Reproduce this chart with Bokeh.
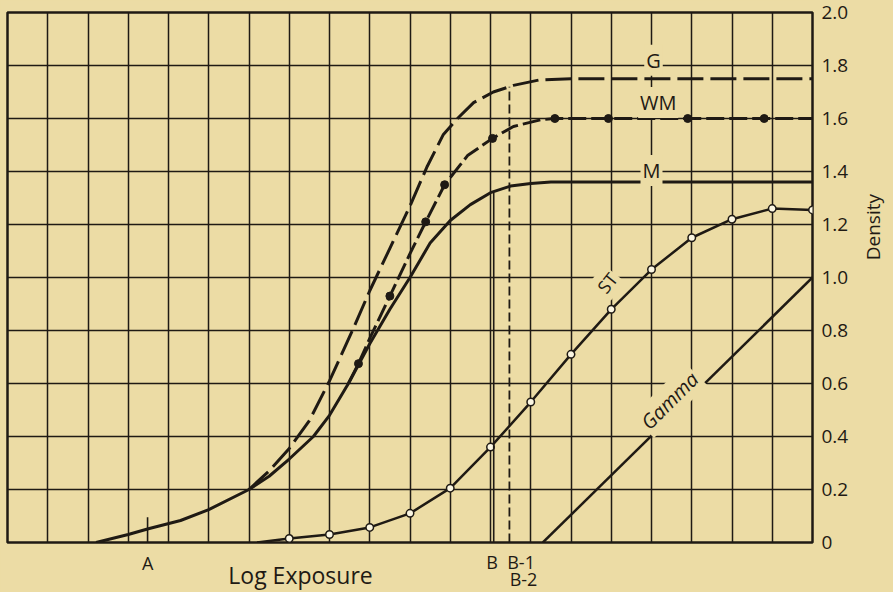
import math
from jinja2 import Template
from bokeh.plotting import figure
from bokeh.layouts import column, row
from bokeh.models import Range1d, FixedTicker, Grid, Label
from bokeh.embed import file_html
from bokeh.resources import INLINE

PAPER = "#ecdca5"
INK = "#1f1a14"
FONT = "Open Sans"

# ---- grid / axis values ----
x_grid = list(range(0, 21))
density_ticks = [0.0, 0.2, 0.4, 0.6, 0.8, 1.0, 1.2, 1.4, 1.6, 1.8, 2.0]
density_labels = ["0", "0.2", "0.4", "0.6", "0.8", "1.0", "1.2", "1.4", "1.6", "1.8", "2.0"]

# ---- curves (x = log exposure grid units, y = density) ----
m_x = [2.2, 3.0, 3.5, 4.3, 5.0, 6.0, 6.5, 7.0, 7.6, 8.0, 8.47, 9.0, 9.5, 10.0, 10.5, 11.0, 11.5, 12.0, 12.5, 13.0, 13.5, 14.0, 20.0]
m_y = [0.0, 0.03, 0.052, 0.083, 0.124, 0.20, 0.25, 0.315, 0.40, 0.48, 0.60, 0.75, 0.88, 1.0, 1.13, 1.215, 1.275, 1.32, 1.345, 1.355, 1.36, 1.36, 1.36]

g_x = [6.0, 6.5, 7.0, 7.5, 8.0, 8.57, 9.0, 9.5, 10.0, 10.43, 10.83, 11.18, 11.58, 12.07, 12.57, 13.2, 14.0, 20.0]
g_y = [0.20, 0.27, 0.355, 0.46, 0.61, 0.80, 0.95, 1.11, 1.27, 1.42, 1.54, 1.60, 1.66, 1.70, 1.725, 1.745, 1.75, 1.75]

wm_x = [8.47, 8.72, 9.0, 9.5, 10.0, 10.39, 10.86, 11.43, 12.05, 12.57, 13.24, 13.6, 20.0]
wm_y = [0.60, 0.675, 0.77, 0.93, 1.09, 1.21, 1.35, 1.46, 1.525, 1.57, 1.595, 1.60, 1.60]
wm_dot_x = [8.72, 9.5, 10.39, 10.86, 12.05, 13.6, 14.93, 16.9, 18.8]
wm_dot_y = [0.675, 0.93, 1.21, 1.35, 1.525, 1.60, 1.60, 1.60, 1.60]

st_start_x = 6.2
st_start_y = 0.0
st_x = [7, 8, 9, 10, 11, 12, 13, 14, 15, 16, 17, 18, 19, 20]
st_y = [0.015, 0.03, 0.057, 0.11, 0.205, 0.36, 0.53, 0.71, 0.88, 1.03, 1.15, 1.22, 1.26, 1.255]

gamma_x = [13.3, 20.0]
gamma_y = [0.0, 1.0]

# ---- reference markers ----
a_x = 3.48
a_tick_top = 0.095
b_x = 12.08
b_top = 1.32
b1_x = 12.47
b1_top = 1.72

x_range = Range1d(0, 20)
y_range = Range1d(0, 2)


def bare(fig):
    fig.background_fill_color = PAPER
    fig.border_fill_color = PAPER
    fig.outline_line_color = None
    fig.center = [r for r in fig.center if not isinstance(r, Grid)]


def lab(fig, x, y, text, size, angle=0.0, style="normal", bg=True, align="center"):
    kw = dict(x=x, y=y, text=text, x_units="data", y_units="data",
              text_font=FONT, text_font_size=size, text_color=INK,
              text_align=align, text_baseline="middle", angle=angle,
              text_font_style=style)
    if bg:
        kw.update(background_fill_color=PAPER, background_fill_alpha=1.0, padding=2)
    fig.add_layout(Label(**kw))


# ---------------- main chart ----------------
p = figure(width=814, height=548, x_range=x_range, y_range=y_range,
           output_backend="svg", toolbar_location=None,
           x_axis_location=None, y_axis_location=None,
           min_border_left=7, min_border_top=12, min_border_bottom=6, min_border_right=2)
bare(p)
p.outline_line_color = INK
p.outline_line_width = 2.5
p.outline_line_alpha = 1.0

p.add_layout(Grid(dimension=0, ticker=FixedTicker(ticks=x_grid),
                  grid_line_color=INK, grid_line_width=1.5, grid_line_alpha=1.0), "center")
p.add_layout(Grid(dimension=1, ticker=FixedTicker(ticks=density_ticks),
                  grid_line_color=INK, grid_line_width=1.5, grid_line_alpha=1.0), "center")

# curves
p.line(g_x, g_y, line_width=3, color=INK, line_dash="26 7")
p.line(wm_x, wm_y, line_width=3, color=INK, line_dash="18 5")
p.scatter(wm_dot_x, wm_dot_y, size=8, color=INK)
p.line(m_x, m_y, line_width=3, color=INK)
p.line([st_start_x] + st_x, [st_start_y] + st_y, line_width=2.5, color=INK)
p.scatter(st_x, st_y, size=7.5, fill_color="#fbf6e2", line_color=INK, line_width=1.5)
p.line(gamma_x, gamma_y, line_width=2.5, color=INK)

# reference lines
p.line([a_x, a_x], [0, a_tick_top], line_width=1.6, color=INK)
p.line([b_x, b_x], [0, b_top], line_width=1.6, color=INK)
p.line([b1_x, b1_x], [0, b1_top], line_width=1.8, color=INK, line_dash="9 4")

lab(p, 16.05, 1.82, "G", "20px")
lab(p, 16.17, 1.66, "WM", "20px")
lab(p, 16.0, 1.404, "M", "20px")
lab(p, 14.9, 0.98, "ST", "18px", angle=0.9)
lab(p, 16.45, 0.536, "Gamma", "20px", angle=math.pi / 4, style="italic")

# ---------------- bottom strip: exposure labels ----------------
bottom = figure(width=814, height=44, x_range=x_range, y_range=Range1d(-0.18868, -0.02264),
                output_backend="svg", toolbar_location=None,
                x_axis_location=None, y_axis_location=None,
                min_border_left=7, min_border_right=2, min_border_top=0, min_border_bottom=0)
bare(bottom)
lab(bottom, 3.48, -0.0755, "A", "18px", bg=False)
lab(bottom, 12.04, -0.0717, "B", "18px", bg=False)
lab(bottom, 12.76, -0.0717, "B-1", "18px", bg=False)
lab(bottom, 12.82, -0.1396, "B-2", "18px", bg=False)
lab(bottom, 7.28, -0.1245, "Log Exposure", "23px", bg=False)

# ---------------- right strip: density scale ----------------
strip = figure(width=79, height=592, x_range=Range1d(0, 79), y_range=Range1d(-0.18868, 2.04528),
               output_backend="svg", toolbar_location=None,
               x_axis_location=None, y_axis_location=None,
               min_border_left=0, min_border_right=0, min_border_top=0, min_border_bottom=0)
bare(strip)
for t, s in zip(density_ticks, density_labels):
    lab(strip, 7, t, s, "19px", bg=False, align="left")
lab(strip, 58, 1.19, "Density", "19px", angle=math.pi / 2, bg=False)

layout = row(column(p, bottom, spacing=0), strip, spacing=0)

TEMPLATE = Template("""{% extends base %}
{% block preamble %}<style>html, body { background: #ecdca5; }</style>{% endblock %}""")

open("out.html", "w").write(file_html(layout, INLINE, template=TEMPLATE))
